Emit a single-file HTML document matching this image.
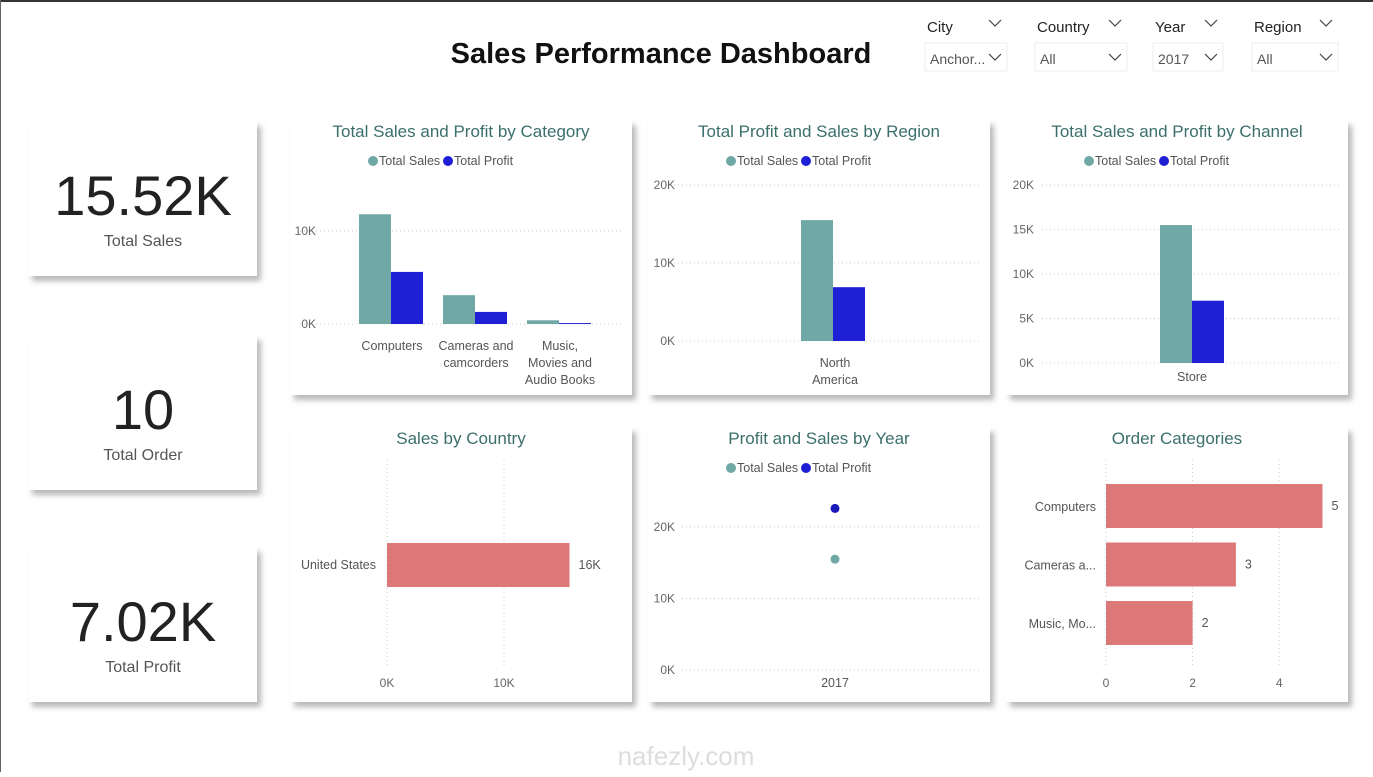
<!DOCTYPE html>
<html><head><meta charset="utf-8"><style>
body{margin:0;width:1373px;height:772px;overflow:hidden;background:#fff;font-family:"Liberation Sans",sans-serif}
svg text{font-family:"Liberation Sans",sans-serif}
</style></head><body>
<svg id="s" width="1373" height="772" xmlns="http://www.w3.org/2000/svg">
<defs><filter id="sh" x="-10%" y="-10%" width="130%" height="130%"><feDropShadow dx="4" dy="5" stdDeviation="3" flood-color="#000" flood-opacity="0.28"/></filter></defs>
<rect x="0" y="0" width="1373" height="2" fill="#333"/>
<rect x="0" y="0" width="1" height="772" fill="#666"/>
<text x="661" y="63" text-anchor="middle" font-size="29" font-weight="bold" fill="#111">Sales Performance Dashboard</text>
<g id="filters"></g>
<g id="cards"></g>
<g id="charts"></g>
<text x="686" y="765" text-anchor="middle" font-size="26" fill="#ddd">nafezly.com</text>
</svg>
<script>
const NS='http://www.w3.org/2000/svg';
function mk(p,t,a,txt){const e=document.createElementNS(NS,t);for(const k in a)e.setAttribute(k,a[k]);if(txt!==undefined)e.textContent=txt;p.appendChild(e);return e;}
const S=document.getElementById('s');
const TEAL='#6fa8a5',BLUE='#1f1fd6',RED='#dd7878',TITLE='#3b6f6b';

// filters
const filterNames=['City','Country','Year','Region'];
const filterValues=['Anchor...','All','2017','All'];
const fx=[925,1035,1153,1252],fw=[82,92,70,86];
const FG=document.getElementById('filters');
filterNames.forEach((n,i)=>{
  const g=mk(FG,'g',{});
  
  
  mk(g,'text',{x:fx[i]+2,y:32,'font-size':15,fill:'#222'},n);
  const cx=fx[i]+fw[i]-12;
  mk(g,'path',{d:`M${cx-6} 20 l6 6 l6 -6`,stroke:'#444',fill:'none','stroke-width':1.2});
  mk(g,'rect',{x:fx[i],y:43,width:fw[i],height:28,fill:'#fff',stroke:'#eee'});
  mk(g,'text',{x:fx[i]+5,y:64,'font-size':14,fill:'#555'},filterValues[i]);
  const cx2=fx[i]+fw[i]-12;
  mk(g,'path',{d:`M${cx2-6} 54 l6 6 l6 -6`,stroke:'#444',fill:'none','stroke-width':1.2});
});

// KPI cards
const kpiValues=['15.52K','10','7.02K'];
const kpiLabels=['Total Sales','Total Order','Total Profit'];
const ky=[121,335,547];
const CG=document.getElementById('cards');
kpiValues.forEach((v,i)=>{
  const g=mk(CG,'g',{});
  
  
  mk(g,'rect',{x:28,y:ky[i],width:229,height:155,fill:'#fff',filter:'url(#sh)'});
  mk(g,'text',{x:143,y:ky[i]+94,'text-anchor':'middle','font-size':56,fill:'#222'},v);
  mk(g,'text',{x:143,y:ky[i]+125,'text-anchor':'middle','font-size':16,fill:'#555'},kpiLabels[i]);
});

const CH=document.getElementById('charts');
function panel(x,y,title,name){
  const g=mk(CH,'g',{});
  
  
  mk(g,'rect',{x:x,y:y,width:342,height:275,fill:'#fff',filter:'url(#sh)'});
  mk(g,'text',{x:x+171,y:y+17,'text-anchor':'middle','font-size':17,fill:TITLE},title);
  return g;
}
function legend(g,cx,y){
  const lg=mk(g,'g',{});
  
  
  mk(lg,'circle',{cx:cx-88,cy:y-4,r:5,fill:TEAL});
  mk(lg,'text',{x:cx-82,y:y,'font-size':12.5,fill:'#555'},'Total Sales');
  mk(lg,'circle',{cx:cx-13,cy:y-4,r:5,fill:BLUE});
  mk(lg,'text',{x:cx-7,y:y,'font-size':12.5,fill:'#555'},'Total Profit');
}
function grid(g,x1,x2,y){mk(g,'line',{x1:x1,x2:x2,y1:y,y2:y,stroke:'#ccc','stroke-dasharray':'1 3'});}
function vgrid(g,x,y1,y2){mk(g,'line',{x1:x,x2:x,y1:y1,y2:y2,stroke:'#ccc','stroke-dasharray':'1 3'});}

// Chart 1: category
const catNames=[['Computers'],['Cameras and','camcorders'],['Music,','Movies and','Audio Books']];
const catSales=[11.8,3.1,0.4];
const catProfit=[5.6,1.3,0.1];
const catTicks=[0,10];
{
  const g=panel(290,120,'Total Sales and Profit by Category','chart-category');
  legend(g,461,165);
  const y=v=>324-v*9.3, cx=i=>391+i*84;
  catTicks.forEach(t=>{grid(g,300,622,y(t));mk(g,'text',{x:316,y:y(t)+4,'text-anchor':'end','font-size':12,fill:'#666'},t+'K');});
  catSales.forEach((v,i)=>{
    const b=mk(g,'rect',{x:cx(i)-32,y:y(v),width:32,height:324-y(v),fill:TEAL});
    
    const p=mk(g,'rect',{x:cx(i),y:y(catProfit[i]),width:32,height:324-y(catProfit[i]),fill:BLUE});
    
    catNames[i].forEach((l,j)=>mk(g,'text',{x:cx(i)+1,y:350+j*17,'text-anchor':'middle','font-size':12.5,fill:'#555'},l));
  });
}
// Chart 2: region
const regNames=[['North','America']];
const regSales=[15.5];
const regProfit=[6.9];
const regTicks=[0,10,20];
{
  const g=panel(648,120,'Total Profit and Sales by Region','chart-region');
  legend(g,819,165);
  const y=v=>341-v*7.8, cx=i=>833+i*100;
  regTicks.forEach(t=>{grid(g,666,982,y(t));mk(g,'text',{x:675,y:y(t)+4,'text-anchor':'end','font-size':12,fill:'#666'},t+'K');});
  regSales.forEach((v,i)=>{
    const b=mk(g,'rect',{x:cx(i)-32,y:y(v),width:32,height:341-y(v),fill:TEAL});
    
    const p=mk(g,'rect',{x:cx(i),y:y(regProfit[i]),width:32,height:341-y(regProfit[i]),fill:BLUE});
    
    regNames[i].forEach((l,j)=>mk(g,'text',{x:cx(i)+2,y:367+j*17,'text-anchor':'middle','font-size':12.5,fill:'#555'},l));
  });
}
// Chart 3: channel
const chNames=['Store'];
const chSales=[15.5];
const chProfit=[7.0];
const chTicks=[0,5,10,15,20];
{
  const g=panel(1006,120,'Total Sales and Profit by Channel','chart-channel');
  legend(g,1177,165);
  const y=v=>363-v*8.9, cx=i=>1192+i*100;
  chTicks.forEach(t=>{grid(g,1042,1340,y(t));mk(g,'text',{x:1034,y:y(t)+4,'text-anchor':'end','font-size':12,fill:'#666'},t+'K');});
  chSales.forEach((v,i)=>{
    const b=mk(g,'rect',{x:cx(i)-32,y:y(v),width:32,height:363-y(v),fill:TEAL});
    
    const p=mk(g,'rect',{x:cx(i),y:y(chProfit[i]),width:32,height:363-y(chProfit[i]),fill:BLUE});
    
    mk(g,'text',{x:cx(i),y:381,'text-anchor':'middle','font-size':12.5,fill:'#555'},chNames[i]);
  });
}
// Chart 4: country
const ctyNames=['United States'];
const ctySales=[15.6];
const ctyLabels=['16K'];
const ctyTicks=[0,10];
{
  const g=panel(290,427,'Sales by Country','chart-country');
  const x=v=>387+v*11.7, cy=i=>565+i*60;
  ctyTicks.forEach(t=>{vgrid(g,x(t),460,665);mk(g,'text',{x:x(t),y:687,'text-anchor':'middle','font-size':12,fill:'#666'},t+'K');});
  ctySales.forEach((v,i)=>{
    const b=mk(g,'rect',{x:x(0),y:cy(i)-22,width:x(v)-x(0),height:44,fill:RED});
    
    mk(g,'text',{x:376,y:cy(i)+4,'text-anchor':'end','font-size':12.5,fill:'#555'},ctyNames[i]);
    mk(g,'text',{x:x(v)+9,y:cy(i)+4,'font-size':12.5,fill:'#555'},ctyLabels[i]);
  });
}
// Chart 5: year
const yrNames=['2017'];
const yrSales=[15.5];
const yrProfit=[22.6];
const yrTicks=[0,10,20];
{
  const g=panel(648,427,'Profit and Sales by Year','chart-year');
  legend(g,819,472);
  const y=v=>670-v*7.15, cx=i=>835+i*100;
  yrTicks.forEach(t=>{grid(g,682,982,y(t));mk(g,'text',{x:675,y:y(t)+4,'text-anchor':'end','font-size':12,fill:'#666'},t+'K');});
  yrSales.forEach((v,i)=>{
    const a=mk(g,'circle',{cx:cx(i),cy:y(v),r:4.5,fill:TEAL});
    
    const b=mk(g,'circle',{cx:cx(i),cy:y(yrProfit[i]),r:4.5,fill:'#1a1ab8'});
    
    mk(g,'text',{x:cx(i),y:687,'text-anchor':'middle','font-size':12.5,fill:'#555'},yrNames[i]);
  });
}
// Chart 6: order categories
const ordNames=['Computers','Cameras a...','Music, Mo...'];
const ordCounts=[5,3,2];
const ordTicks=[0,2,4];
{
  const g=panel(1006,427,'Order Categories','chart-order-categories');
  const x=v=>1106+v*43.3, cy=i=>506+i*58.5;
  ordTicks.forEach(t=>{vgrid(g,x(t),460,665);mk(g,'text',{x:x(t),y:687,'text-anchor':'middle','font-size':12,fill:'#666'},t);});
  ordCounts.forEach((v,i)=>{
    const b=mk(g,'rect',{x:x(0),y:cy(i)-22,width:x(v)-x(0),height:44,fill:RED});
    
    mk(g,'text',{x:1096,y:cy(i)+5,'text-anchor':'end','font-size':12.5,fill:'#555'},ordNames[i]);
    mk(g,'text',{x:x(v)+9,y:cy(i)+4,'font-size':12.5,fill:'#555'},v);
  });
}
</script>
</body></html>
